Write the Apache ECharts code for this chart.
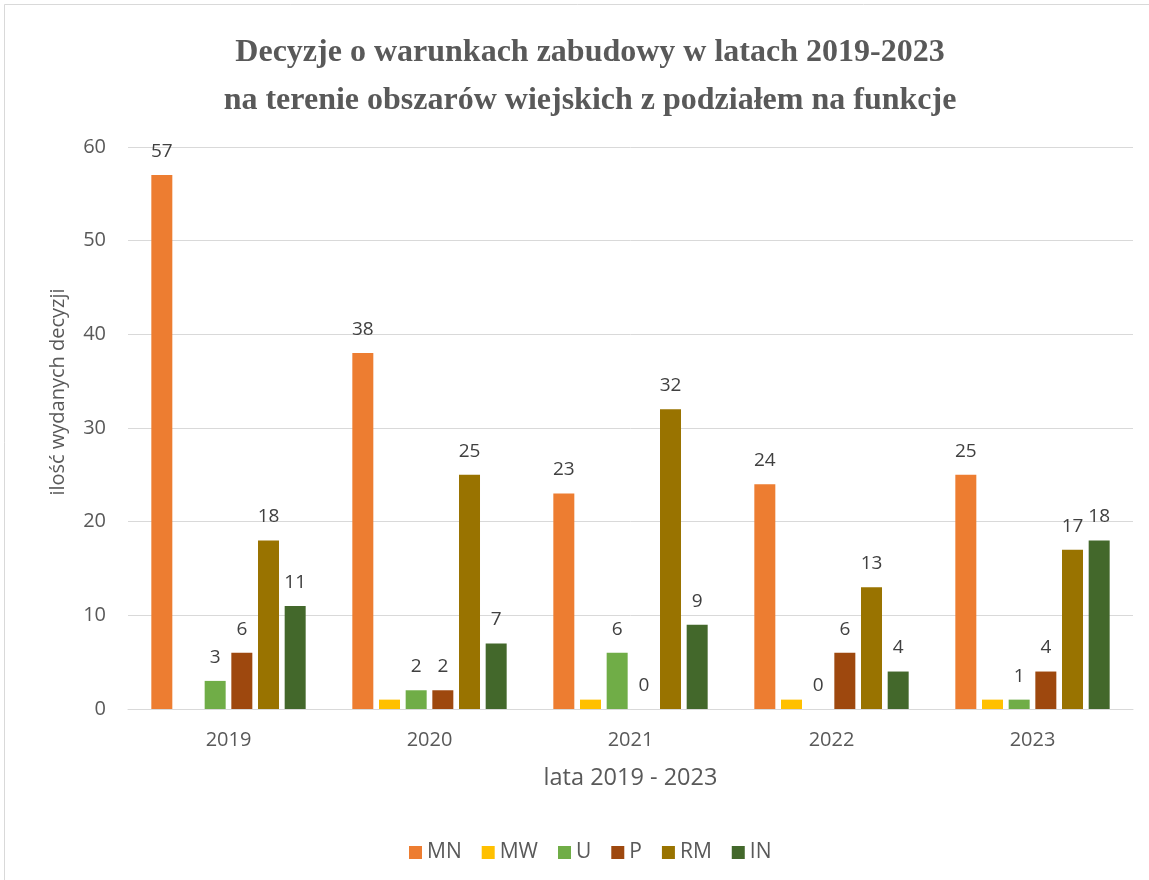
<!DOCTYPE html>
<html>
<head>
<meta charset="utf-8">
<style>
  html, body { margin: 0; padding: 0; background: #ffffff; }
  #chart { width: 1149px; height: 880px; }
</style>
<script src="https://cdn.jsdelivr.net/npm/echarts@6/dist/echarts.min.js"></script>
</head>
<body>
<div id="chart"></div>
<script>
// Decisions on development conditions in rural areas, by function
const years = ['2019', '2020', '2021', '2022', '2023'];
const seriesNames = ['MN', 'MW', 'U', 'P', 'RM', 'IN'];
const valuesMN = [57, 38, 23, 24, 25];
const valuesMW = [0, 1, 1, 1, 1];
const valuesU  = [3, 2, 6, 0, 1];
const valuesP  = [6, 2, 0, 6, 4];
const valuesRM = [18, 25, 32, 13, 17];
const valuesIN = [11, 7, 9, 4, 18];
const yTicks = [0, 10, 20, 30, 40, 50, 60];

const colors = ['#ED7D31', '#FFC000', '#70AD47', '#9E480E', '#997300', '#43682B'];
const allValues = [valuesMN, valuesMW, valuesU, valuesP, valuesRM, valuesIN];
const showLabel = [true, false, true, true, true, true];

const chart = echarts.init(document.getElementById('chart'));

const series = seriesNames.map((name, i) => ({
  name: name,
  type: 'bar',
  data: allValues[i],
  barWidth: 21,
  barGap: '27%',
  itemStyle: { color: colors[i] },
  label: {
    show: showLabel[i],
    position: 'top',
    distance: 14,
    fontFamily: 'Open Sans',
    fontSize: 19,
    color: '#404040'
  }
}));

chart.setOption({
  animation: false,
  backgroundColor: '#ffffff',
  title: {
    text: 'Decyzje o warunkach zabudowy w latach 2019-2023\nna terenie obszarów wiejskich z podziałem na funkcje',
    left: 585,
    textAlign: 'center',
    top: 24,
    textStyle: {
      fontFamily: 'Liberation Serif',
      fontWeight: 'bold',
      fontSize: 32,
      lineHeight: 48,
      color: '#595959'
    }
  },
  legend: {
    data: seriesNames,
    top: 837,
    left: 404,
    itemWidth: 13,
    itemHeight: 13,
    itemGap: 20,
    icon: 'rect',
    textStyle: {
      fontFamily: 'Open Sans',
      fontSize: 21,
      color: '#595959'
    }
  },
  grid: {
    left: 128,
    right: 16,
    top: 147,
    bottom: 171
  },
  xAxis: {
    type: 'category',
    data: years,
    name: 'lata 2019 - 2023',
    nameLocation: 'middle',
    nameGap: 57,
    nameTextStyle: { fontFamily: 'Open Sans', fontSize: 23.5, color: '#595959' },
    axisLine: { lineStyle: { color: '#d9d9d9', width: 1 } },
    axisTick: { show: false },
    axisLabel: { fontFamily: 'Open Sans', fontSize: 20, color: '#595959', margin: 21 }
  },
  yAxis: {
    type: 'value',
    min: yTicks[0],
    max: yTicks[yTicks.length - 1],
    interval: 10,
    axisLine: { show: false },
    axisTick: { show: false },
    splitLine: { lineStyle: { color: '#d9d9d9', width: 1 } },
    axisLabel: { fontFamily: 'Open Sans', fontSize: 20, color: '#595959', margin: 22 }
  },
  graphic: [{
    type: 'rect',
    shape: { x: 4.5, y: 4.5, width: 1300, height: 1000 },
    style: { fill: 'none', stroke: '#d9d9d9', lineWidth: 1 },
    silent: true
  }, {
    // vertical axis title
    type: 'text',
    x: 58,
    y: 392,
    rotation: Math.PI / 2,
    style: {
      text: 'ilość wydanych decyzji',
      fontFamily: 'Open Sans',
      fontSize: 20,
      fill: '#595959',
      align: 'center',
      verticalAlign: 'middle'
    },
    silent: true
  }],
  series: series
});
</script>
</body>
</html>
